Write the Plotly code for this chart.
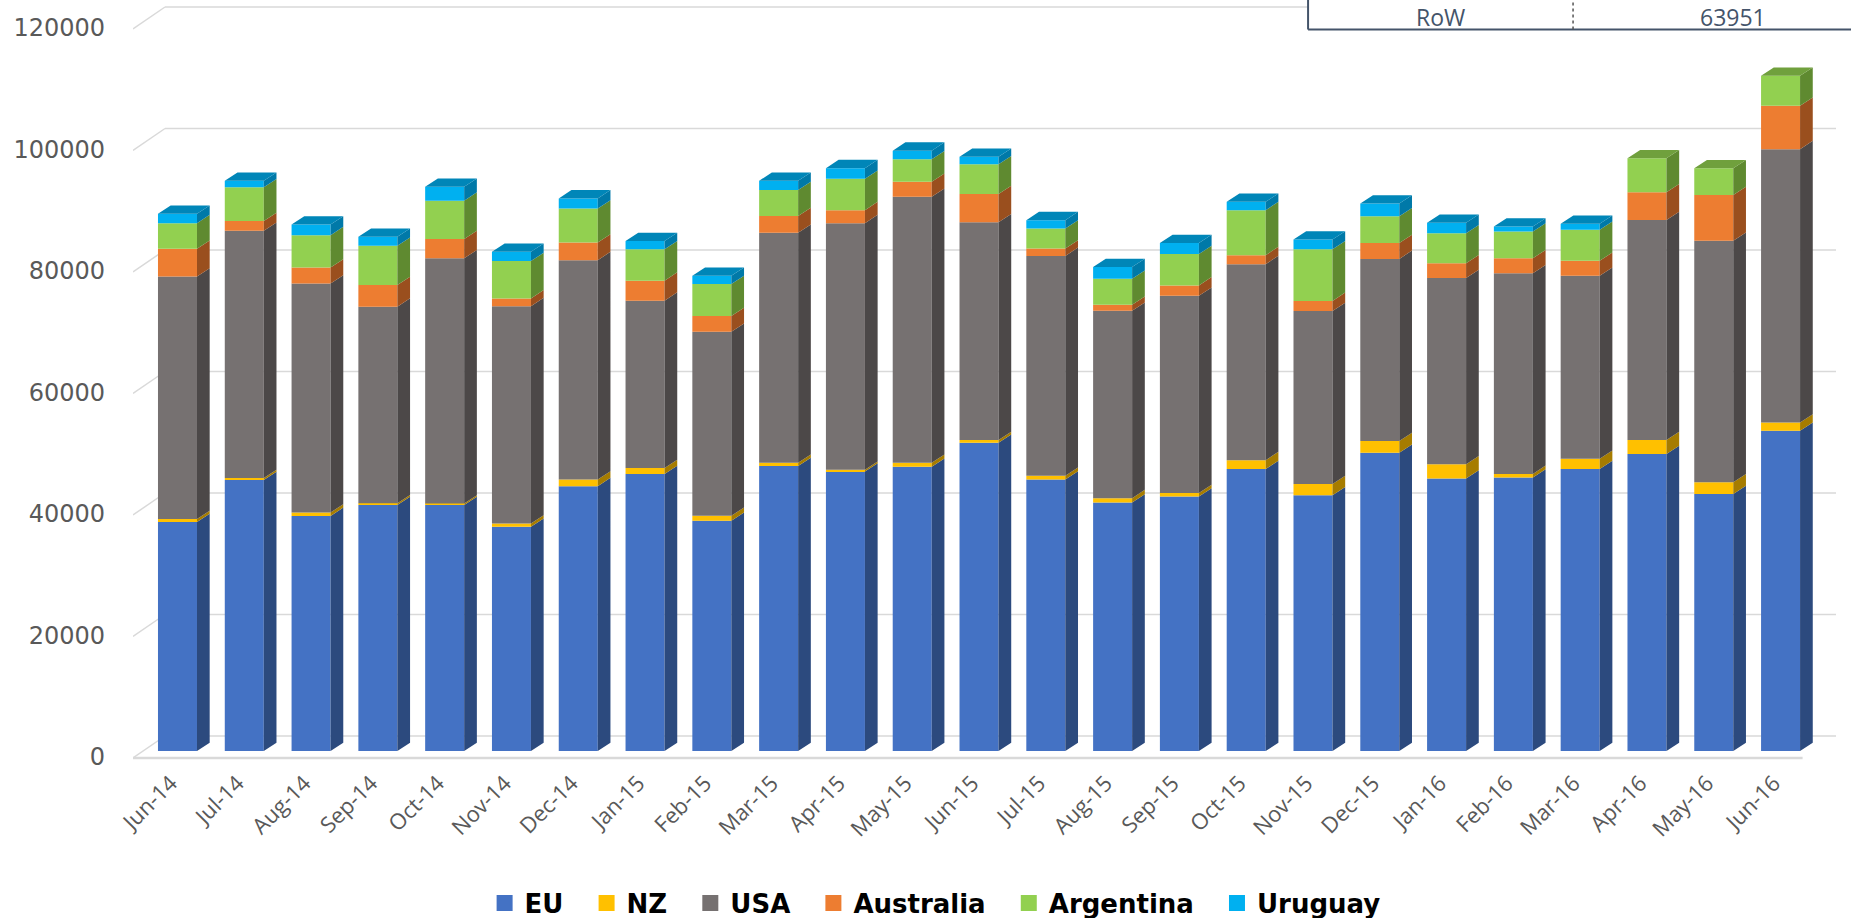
import numpy as np
import plotly.graph_objects as go

# ---- data -------------------------------------------------------------
months = ["Jun-14", "Jul-14", "Aug-14", "Sep-14", "Oct-14", "Nov-14", "Dec-14",
          "Jan-15", "Feb-15", "Mar-15", "Apr-15", "May-15", "Jun-15", "Jul-15",
          "Aug-15", "Sep-15", "Oct-15", "Nov-15", "Dec-15", "Jan-16", "Feb-16",
          "Mar-16", "Apr-16", "May-16", "Jun-16"]

eu = [37700, 44600, 38700, 40500, 40500, 36900, 43600, 45600, 37900, 46900,
      46000, 46800, 50750, 44700, 40900, 41900, 46400, 42100, 49100, 44850,
      45000, 46400, 48900, 42300, 52700]
nz = [500, 330, 560, 280, 250, 560, 1100, 990, 820, 540, 280, 650, 440, 590,
      720, 560, 1480, 1860, 1940, 2350, 610, 1700, 2300, 1930, 1380]
usa = [39900, 40700, 37700, 32360, 40360, 35770, 36100, 27540, 30290, 37860,
       40610, 43790, 35840, 36210, 30830, 32480, 32260, 28480, 29960, 30650,
       33040, 30120, 36210, 39770, 44990]
australia = [4560, 1600, 2630, 3570, 3180, 1270, 2910, 3290, 2580, 2750, 2140,
             2470, 4660, 1220, 990, 1700, 1480, 1650, 2630, 2420, 2470, 2470,
             4560, 7520, 7130]
argentina = [4230, 5550, 5320, 6470, 6300, 6140, 5600, 5170, 5270, 4280, 5150,
             3690, 4890, 3290, 4280, 5170, 7410, 8510, 4400, 4940, 4380, 5100,
             5600, 4400, 4940]
uruguay = [1530, 1090, 1760, 1480, 2300, 1530, 1650, 1370, 1370, 1530, 1760,
           1420, 1250, 1370, 1930, 1810, 1370, 1600, 2090, 1745, 820, 990,
           0, 0, 0]

series_names = ["EU", "NZ", "USA", "Australia", "Argentina", "Uruguay"]
series_values = [eu, nz, usa, australia, argentina, uruguay]

y_ticks = [0, 20000, 40000, 60000, 80000, 100000, 120000]

table_labels = ["RoW"]
table_values = [63951]

# ---- styling ----------------------------------------------------------
front_colors = ["#4472C4", "#FFC000", "#767171", "#ED7D31", "#92D050", "#00B0F0"]
side_colors = ["#2C4A7E", "#A67C00", "#4C4848", "#9A4F1E", "#5F8A30", "#0079A8"]
top_colors = ["#3A62A8", "#D9A300", "#605C5C", "#C4662A", "#70A03D", "#0086B8"]

BAR_W = 0.584          # front face width (category units)
DEPTH_X = 0.19         # oblique depth offset, x (category units)
DEPTH_Y = 1366         # oblique depth offset, y (value units)
FRONT_OFF = -1152      # front floor plane relative to bar plane
BACK_OFF = 2469        # back wall relative to bar plane
TICK_OFF = -988        # tick labels sit on the front plane
LABEL_SHIFT = -0.1     # category labels sit on the front plane too
X_FRONT = -0.666
X_BACK = -0.187
X_RIGHT = 24.83
X_FLOOR_END = 24.33
GRID = "#D9D9D9"
TEXT = "#595959"
LEGEND_PAD = "\u00a0\u00a0"   # extra room between legend entries

x = np.arange(len(months))
vals = np.array(series_values, dtype=float)
tops = np.cumsum(vals, axis=0)
bottoms = tops - vals

fig = go.Figure()

# front faces
for s, name in enumerate(series_names):
    fig.add_trace(go.Bar(
        x=x, y=vals[s], base=bottoms[s], width=BAR_W, name=name,
        marker=dict(color=front_colors[s], line=dict(width=0)),
        legendgroup=name, showlegend=False,
        hovertemplate=name + " %{customdata}: %{y}<extra></extra>",
        customdata=months,
    ))

# right-hand side faces of every segment
for s, name in enumerate(series_names):
    px, py = [], []
    for i in range(len(months)):
        if vals[s, i] <= 0:
            continue
        xr = x[i] + BAR_W / 2
        b, t = bottoms[s, i], tops[s, i]
        px += [xr, xr + DEPTH_X, xr + DEPTH_X, xr, xr, None]
        py += [b, b + DEPTH_Y, t + DEPTH_Y, t, b, None]
    fig.add_trace(go.Scatter(
        x=px, y=py, mode="lines", fill="toself", fillcolor=side_colors[s],
        line=dict(width=0, color=side_colors[s]), hoverinfo="skip",
        legendgroup=name, showlegend=False,
    ))

# top caps, coloured by the uppermost non-empty segment
top_series = [max(s for s in range(len(series_names)) if vals[s, i] > 0)
              for i in range(len(months))]
for s, name in enumerate(series_names):
    px, py = [], []
    for i in range(len(months)):
        if top_series[i] != s:
            continue
        xl, xr = x[i] - BAR_W / 2, x[i] + BAR_W / 2
        t = tops[s, i]
        px += [xl, xl + DEPTH_X, xr + DEPTH_X, xr, xl, None]
        py += [t, t + DEPTH_Y, t + DEPTH_Y, t, t, None]
    if px:
        fig.add_trace(go.Scatter(
            x=px, y=py, mode="lines", fill="toself", fillcolor=top_colors[s],
            line=dict(width=0, color=top_colors[s]), hoverinfo="skip",
            legendgroup=name, showlegend=False,
        ))

# legend entries
for s, name in enumerate(series_names):
    label = name if s == len(series_names) - 1 else name + LEGEND_PAD
    fig.add_trace(go.Scatter(
        x=[None], y=[None], mode="markers", name=label, legendgroup=name,
        marker=dict(symbol="square", size=16, color=front_colors[s]),
    ))

# back-wall gridlines with their side-wall diagonals, plus the floor edge
shapes = []
for v in y_ticks:
    shapes.append(dict(type="line", xref="x", yref="y", layer="below",
                       x0=X_FRONT, y0=v + FRONT_OFF, x1=X_BACK, y1=v + BACK_OFF,
                       line=dict(color=GRID, width=1.5)))
    shapes.append(dict(type="line", xref="x", yref="y", layer="below",
                       x0=X_BACK, y0=v + BACK_OFF, x1=X_RIGHT, y1=v + BACK_OFF,
                       line=dict(color=GRID, width=1.5)))
shapes.append(dict(type="line", xref="x", yref="y", layer="below",
                   x0=X_FRONT, y0=FRONT_OFF, x1=X_FLOOR_END, y1=FRONT_OFF,
                   line=dict(color=GRID, width=2.5)))

# data table fragment in the top-right corner
TABLE_LINE = "#44546A"
shapes += [
    dict(type="rect", xref="paper", yref="paper", x0=0.690, y0=0.9614,
         x1=1.05, y1=1.05, fillcolor="white", line=dict(width=0),
         layer="above"),
    dict(type="line", xref="paper", yref="paper", x0=0.690, y0=0.9614,
         x1=0.690, y1=1.05, line=dict(color=TABLE_LINE, width=2)),
    dict(type="line", xref="paper", yref="paper", x0=0.690, y0=0.9614,
         x1=1.05, y1=0.9614, line=dict(color=TABLE_LINE, width=2)),
    dict(type="line", xref="paper", yref="paper", x0=0.8456, y0=0.9614,
         x1=0.8456, y1=1.05, line=dict(color="#555555", width=1.5, dash="dot")),
]
annotations = []
for lbl, val in zip(table_labels, table_values):
    for text, xpos in ((lbl, 0.7675), (str(val), 0.9395)):
        annotations.append(dict(xref="paper", yref="paper", x=xpos, y=1.0,
                                text=text, showarrow=False, xanchor="center",
                                yanchor="top", borderpad=0,
                                font=dict(family="Open Sans", size=23,
                                          color=TABLE_LINE)))

fig.update_layout(
    width=1851, height=918,
    margin=dict(l=133, r=15, t=0, b=153, autoexpand=False),
    paper_bgcolor="white", plot_bgcolor="white",
    barmode="overlay",
    font=dict(family="Open Sans", color=TEXT),
    shapes=shapes, annotations=annotations,
    showlegend=True,
    legend=dict(orientation="h", x=0.471, xanchor="center", y=-0.1804,
                yanchor="middle",
                font=dict(family="DejaVu Sans", size=26, color="#000000",
                          weight="bold"),
                itemclick="toggle"),
    xaxis=dict(range=[X_FRONT, X_RIGHT], tickmode="array",
               tickvals=x + LABEL_SHIFT, ticktext=months, tickangle=-45,
               showgrid=False, zeroline=False, showline=False, ticks="",
               fixedrange=True, automargin=False,
               tickfont=dict(family="Open Sans", size=22, color=TEXT)),
    yaxis=dict(range=[-2305, 123621], tickmode="array",
               tickvals=[v + TICK_OFF for v in y_ticks],
               ticktext=[str(v) for v in y_ticks], showgrid=False,
               zeroline=False, showline=False, ticks="", fixedrange=True,
               automargin=False, ticklabelstandoff=27,
               tickfont=dict(family="DejaVu Sans", size=24, color=TEXT)),
)

fig.write_html("out.html")
